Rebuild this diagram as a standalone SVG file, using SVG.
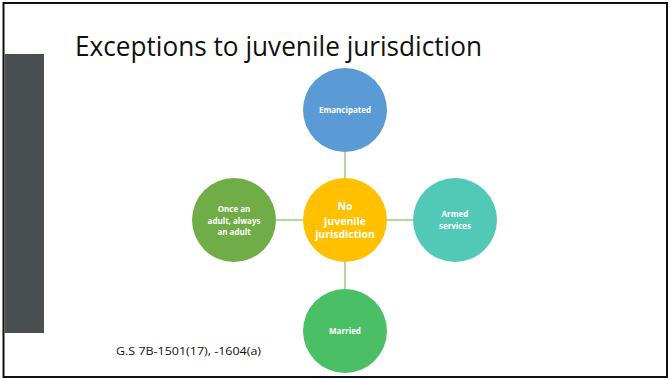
<svg xmlns="http://www.w3.org/2000/svg" width="670" height="380" viewBox="0 0 670 380">
<style>
.node-label{font-family:"Open Sans","Liberation Sans",sans-serif;font-weight:bold;fill:#fff;text-anchor:middle}
.small{font-size:8px}
.big{font-size:10.5px}
.conn{stroke:#9CCB7C;stroke-width:1.5;fill:none}
</style>
<rect x="0" y="0" width="670" height="380" fill="#fff"/>
<rect x="3.5" y="3" width="663.5" height="374" fill="none" stroke="#111" stroke-width="2"/>
<rect x="4.5" y="54" width="39.5" height="279" fill="#4A5052"/>
<text x="75" y="56" font-family="Open Sans, Liberation Sans, sans-serif" font-size="27" fill="#111" textLength="407" lengthAdjust="spacingAndGlyphs">Exceptions to juvenile jurisdiction</text>
<text x="116" y="355" font-family="Open Sans, Liberation Sans, sans-serif" font-size="10.5" fill="#111" textLength="145" lengthAdjust="spacingAndGlyphs">G.S 7B-1501(17), -1604(a)</text>
<g id="connectors">
<line class="conn" x1="345" y1="152" x2="345" y2="178"/>
<line class="conn" x1="345" y1="262" x2="345" y2="289"/>
<line class="conn" x1="276" y1="220" x2="303" y2="220"/>
<line class="conn" x1="387" y1="220" x2="413" y2="220"/>
</g>
<g id="node-emancipated">
<circle cx="345" cy="110" r="42" fill="#5B9BD5"/>
<text class="node-label small" x="345" y="112.5">Emancipated</text>
</g>
<g id="node-center">
<circle cx="345" cy="220" r="42" fill="#FFC000"/>
<text class="node-label big" x="345" y="210">No</text>
<text class="node-label big" x="345" y="225">juvenile</text>
<text class="node-label big" x="345" y="238">jurisdiction</text>
</g>
<g id="node-adult">
<circle cx="234" cy="220" r="42" fill="#70AD47"/>
<text class="node-label small" x="234" y="212">Once an</text>
<text class="node-label small" x="234" y="224">adult, always</text>
<text class="node-label small" x="234" y="235">an adult</text>
</g>
<g id="node-armed">
<circle cx="455" cy="220" r="42" fill="#52C9B7"/>
<text class="node-label small" x="455" y="217">Armed</text>
<text class="node-label small" x="455" y="228.5">services</text>
</g>
<g id="node-married">
<circle cx="345" cy="331" r="42" fill="#4BBF66"/>
<text class="node-label small" x="345" y="334">Married</text>
</g>
</svg>
